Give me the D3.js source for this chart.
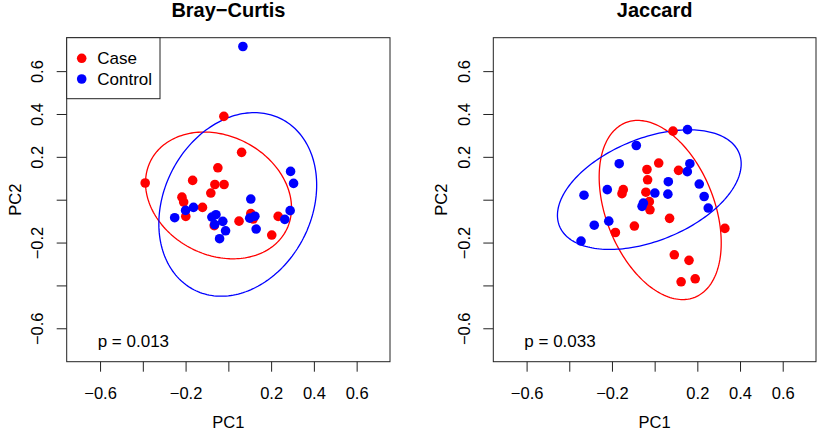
<!DOCTYPE html>
<html>
<head>
<meta charset="utf-8">
<script src="https://cdn.jsdelivr.net/npm/d3@7"></script>
<style>
  html, body { margin: 0; padding: 0; background: #fff; }
  svg { display: block; font-family: "Liberation Sans", Arial, Helvetica, sans-serif; }
</style>
</head>
<body>
<svg id="chart" width="821" height="431"></svg>
<script>
// ---------- data ----------
const panelTitles = ["Bray\u2212Curtis", "Jaccard"];
const pValues = ["p = 0.013", "p = 0.033"];
const groups = ["Case", "Control"];
const groupColors = ["#FF0000", "#0000FF"];

const tickValues = [-0.6, -0.4, -0.2, 0, 0.2, 0.4, 0.6];
const tickLabels = ["\u22120.6", "", "\u22120.2", "", "0.2", "0.4", "0.6"];

// Bray-Curtis
const bcCaseX = [-0.389, -0.021, 0.062, -0.049, -0.167, -0.063, -0.020, -0.082, -0.217, -0.209, -0.121, -0.199, -0.066, 0.050, 0.105, 0.116, 0.233, 0.203];
const bcCaseY = [0.078, 0.389, 0.221, 0.149, 0.090, 0.071, 0.071, 0.031, 0.012, -0.011, -0.036, -0.078, -0.121, -0.100, -0.065, -0.090, -0.078, -0.165];
const bcCtrlX = [0.068, 0.291, 0.305, 0.105, 0.289, 0.264, -0.251, -0.200, -0.163, -0.077, -0.058, -0.064, -0.026, -0.013, -0.041, 0.100, 0.124, 0.130];
const bcCtrlY = [0.715, 0.132, 0.076, 0.003, -0.051, -0.092, -0.084, -0.050, -0.036, -0.081, -0.070, -0.116, -0.101, -0.145, -0.182, -0.086, -0.077, -0.137];

// Jaccard
const jcCaseX = [0.086, 0.019, -0.036, 0.112, -0.033, -0.147, -0.153, -0.041, -0.025, -0.022, 0.070, -0.095, -0.184, 0.329, 0.092, 0.161, 0.124, 0.190];
const jcCaseY = [0.320, 0.171, 0.141, 0.137, 0.093, 0.047, 0.028, 0.035, -0.009, -0.047, -0.087, -0.123, -0.153, -0.134, -0.257, -0.283, -0.383, -0.369];
const jcCtrlX = [0.154, -0.086, -0.166, 0.165, 0.153, 0.064, 0.209, -0.222, -0.331, 0.001, 0.062, 0.232, -0.053, -0.059, 0.251, -0.215, -0.283, -0.345];
const jcCtrlY = [0.327, 0.253, 0.168, 0.168, 0.131, 0.084, 0.073, 0.047, 0.021, 0.031, 0.026, 0.015, -0.016, -0.031, -0.039, -0.100, -0.119, -0.193];

// ellipses: [Case, Control] per panel -> centre x, centre y, semi-axis a, semi-axis b, angle (deg)
const bcEllCx = [-0.046, 0.044];
const bcEllCy = [0.020, -0.022];
const bcEllA = [0.356, 0.448];
const bcEllB = [0.278, 0.345];
const bcEllAng = [-27, 62.7];

const jcEllCx = [0.026, -0.025];
const jcEllCy = [-0.048, 0.047];
const jcEllA = [0.4385, 0.454];
const jcEllB = [0.2535, 0.239];
const jcEllAng = [-68.3, 21.95];

const panels = [
  { title: panelTitles[0], p: pValues[0], left: 66.7, right: 390,
    pts: [[bcCaseX, bcCaseY], [bcCtrlX, bcCtrlY]],
    ell: [bcEllCx, bcEllCy, bcEllA, bcEllB, bcEllAng], legend: true },
  { title: panelTitles[1], p: pValues[1], left: 493.3, right: 816,
    pts: [[jcCaseX, jcCaseY], [jcCtrlX, jcCtrlY]],
    ell: [jcEllCx, jcEllCy, jcEllA, jcEllB, jcEllAng], legend: false }
];

// ---------- drawing ----------
const svg = d3.select("#chart");
const plotTop = 37.7, plotBottom = 361.7;
const lim = 0.756;
const axisColor = "#222";
const fs = 16.5;

panels.forEach(P => {
  const x = d3.scaleLinear().domain([-lim, lim]).range([P.left, P.right]);
  const y = d3.scaleLinear().domain([-lim, lim]).range([plotBottom, plotTop]);
  const g = svg.append("g");

  // x axis
  const xAxis = d3.axisBottom(x).tickValues(tickValues).tickSize(10).tickSizeOuter(0)
    .tickFormat((d, i) => tickLabels[i]);
  const gx = g.append("g").attr("transform", `translate(0,${plotBottom})`).call(xAxis);
  gx.select(".domain").remove();
  gx.selectAll(".tick line").attr("stroke", axisColor).attr("stroke-width", 1);
  gx.selectAll(".tick text").attr("font-size", fs).attr("fill", "#000")
    .attr("font-family", "Liberation Sans, Arial, sans-serif")
    .attr("y", 37.3).attr("dy", 0);

  // y axis
  const yAxis = d3.axisLeft(y).tickValues(tickValues).tickSize(10).tickSizeOuter(0)
    .tickFormat((d, i) => tickLabels[i]);
  const gy = g.append("g").attr("transform", `translate(${P.left},0)`).call(yAxis);
  gy.select(".domain").remove();
  gy.selectAll(".tick line").attr("stroke", axisColor).attr("stroke-width", 1);
  gy.selectAll(".tick text").attr("font-size", fs).attr("fill", "#000")
    .attr("font-family", "Liberation Sans, Arial, sans-serif")
    .attr("x", 0).attr("dy", 0)
    .attr("text-anchor", "middle")
    .attr("transform", "translate(-23.2,0) rotate(-90)");

  // box
  g.append("rect").attr("x", P.left).attr("y", plotTop)
    .attr("width", P.right - P.left).attr("height", plotBottom - plotTop)
    .attr("fill", "none").attr("stroke", axisColor).attr("stroke-width", 1);

  // axis titles
  const cx = x(0);
  g.append("text").attr("x", cx).attr("y", 428).attr("text-anchor", "middle")
    .attr("font-size", fs).text("PC1");
  g.append("text").attr("transform", `translate(${P.left - 46},${(plotTop + plotBottom) / 2}) rotate(-90)`)
    .attr("text-anchor", "middle").attr("font-size", fs).text("PC2");

  // title
  g.append("text").attr("x", cx).attr("y", 17).attr("text-anchor", "middle")
    .attr("font-size", 20).attr("font-weight", "bold").text(P.title);

  // ellipses
  const line = d3.line().x(d => x(d[0])).y(d => y(d[1]));
  const [ecx, ecy, ea, eb, eang] = P.ell;
  groups.forEach((grp, gi) => {
    const th = eang[gi] * Math.PI / 180;
    const pts = d3.range(0, 201).map(k => {
      const t = k / 200 * 2 * Math.PI;
      const u = ea[gi] * Math.cos(t), v = eb[gi] * Math.sin(t);
      return [ecx[gi] + u * Math.cos(th) - v * Math.sin(th),
              ecy[gi] + u * Math.sin(th) + v * Math.cos(th)];
    });
    g.append("path").attr("d", line(pts)).attr("fill", "none")
      .attr("stroke", groupColors[gi]).attr("stroke-width", 1.3);
  });

  // points
  P.pts.forEach((arr, gi) => {
    const [xs, ys] = arr;
    g.append("g").selectAll("circle").data(xs.map((v, i) => [v, ys[i]])).join("circle")
      .attr("cx", d => x(d[0])).attr("cy", d => y(d[1])).attr("r", 4.8)
      .attr("fill", groupColors[gi]);
  });

  // p value
  g.append("text").attr("x", P.left + 31).attr("y", 346.5).attr("font-size", 17).text(P.p);

  // legend
  if (P.legend) {
    const lg = g.append("g");
    lg.append("rect").attr("x", P.left).attr("y", plotTop).attr("width", 160 - P.left).attr("height", 98.7 - plotTop)
      .attr("fill", "#fff").attr("stroke", axisColor).attr("stroke-width", 1);
    groups.forEach((grp, gi) => {
      const yy = [58.3, 79][gi];
      lg.append("circle").attr("cx", 81.7).attr("cy", yy).attr("r", 4.8).attr("fill", groupColors[gi]);
      lg.append("text").attr("x", 97.3).attr("y", yy + 6).attr("font-size", 17).text(grp);
    });
  }
});
</script>
</body>
</html>
